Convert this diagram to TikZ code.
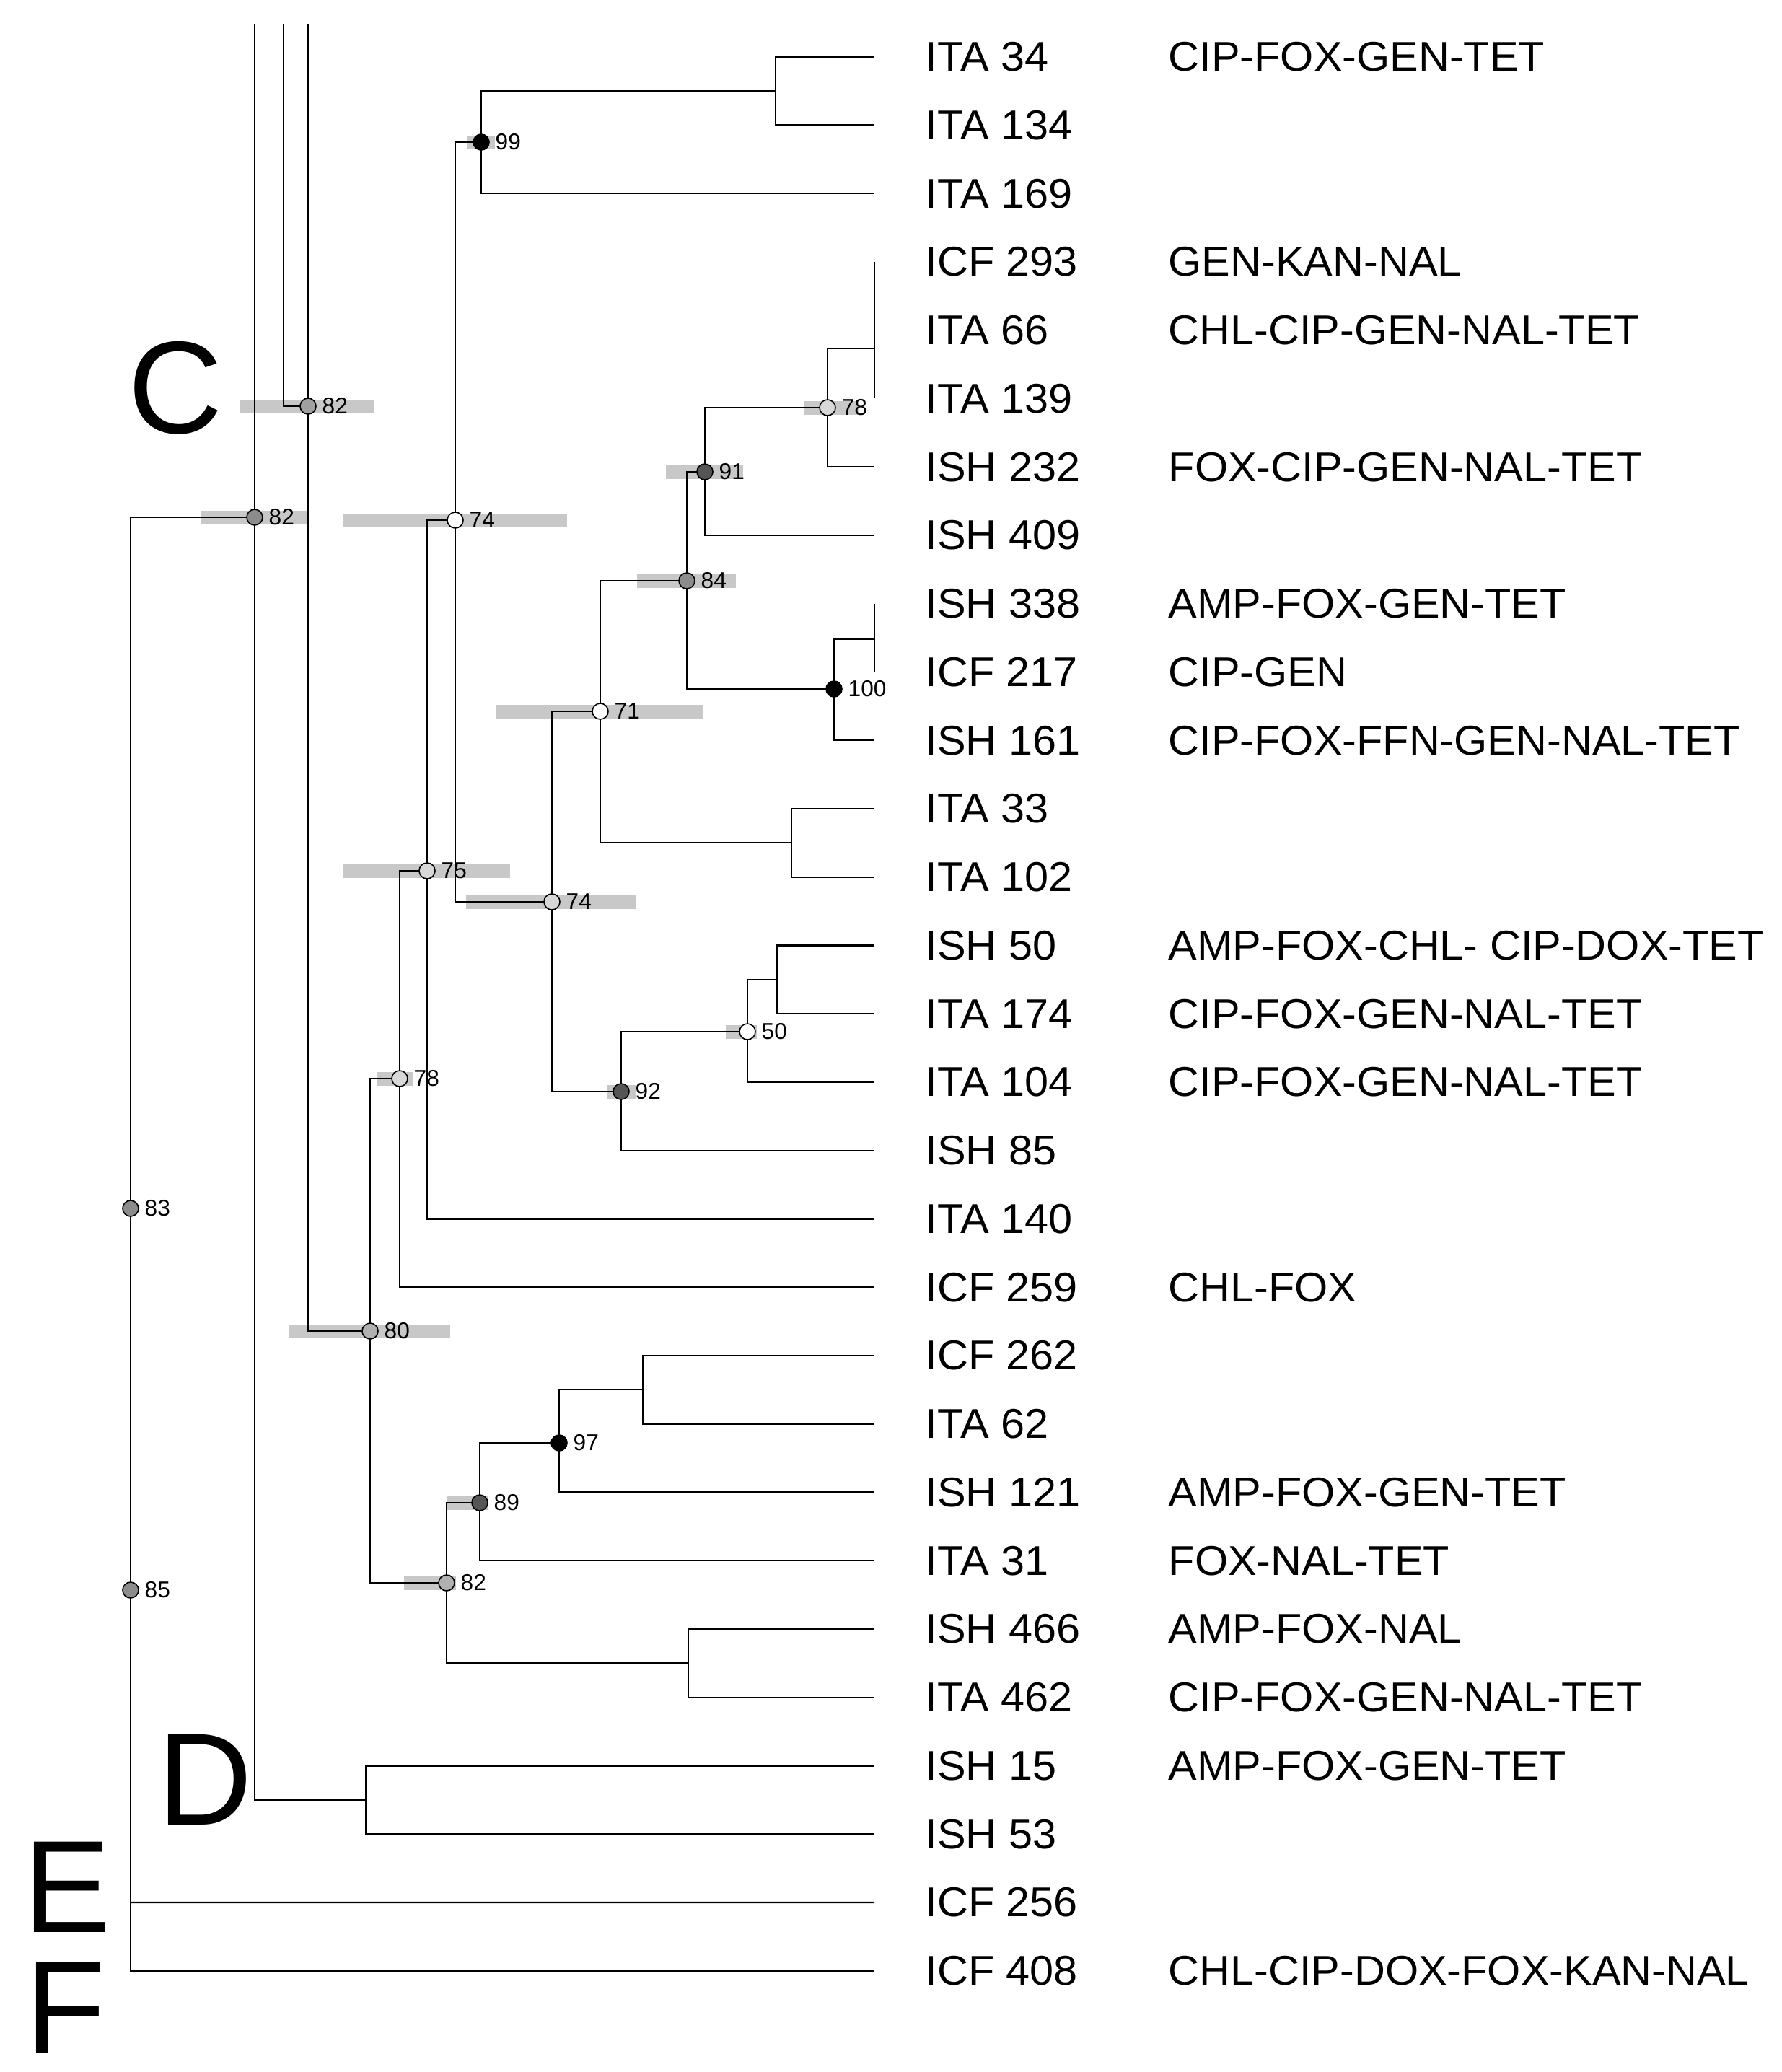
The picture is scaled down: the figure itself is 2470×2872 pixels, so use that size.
\documentclass[tikz,border=0pt]{standalone}
\usepackage{fontspec}
\setmainfont{Liberation Sans}
\newfontfamily\leaffont[FakeStretch=1.03]{Liberation Sans}
\definecolor{barg}{HTML}{C8C8C8}
\definecolor{gA}{HTML}{A0A0A0}
\definecolor{gB}{HTML}{8C8C8C}
\definecolor{gL}{HTML}{D8D8D8}
\definecolor{gD}{HTML}{555555}
\definecolor{gM}{HTML}{B0B0B0}
\tikzset{
  br/.style={line width=0.6pt, line join=miter},
  supnode/.style={circle, draw=black, line width=0.45pt, minimum size=0.22cm, inner sep=0pt},
  slab/.style={anchor=west, inner sep=0pt, font=\fontsize{9pt}{10pt}\selectfont},
  leaf/.style={anchor=base west, inner sep=0pt, font=\leaffont\fontsize{16.4pt}{19pt}\selectfont},
  big/.style={anchor=base west, inner sep=0pt, font=\fontsize{51.8pt}{60pt}\selectfont},
}
\newcommand\hpdbar[3]{\fill[barg] (#1,#2-9.5) rectangle (#3,#2+9.5);}
\begin{document}
\begin{tikzpicture}[x=0.01cm,y=-0.01cm]
\useasboundingbox (0,0) rectangle (2470,2872);
% leaf tips and names
\foreach \i/\nm in {0/ITA 34,1/ITA 134,2/ITA 169,3/ICF 293,4/ITA 66,5/ITA 139,6/ISH 232,7/ISH 409,8/ISH 338,9/ICF 217,10/ISH 161,11/ITA 33,12/ITA 102,13/ISH 50,14/ITA 174,15/ITA 104,16/ISH 85,17/ITA 140,18/ICF 259,19/ICF 262,20/ITA 62,21/ISH 121,22/ITA 31,23/ISH 466,24/ITA 462,25/ISH 15,26/ISH 53,27/ICF 256,28/ICF 408}{
  \pgfmathsetmacro\yy{78.7+94.75*\i}
  \coordinate (L\i) at (1212,\yy);
  \node[leaf] (t\i) at (1282,\yy+20) {\nm};
}
\foreach \i/\ab in {0/CIP-FOX-GEN-TET,3/GEN-KAN-NAL,4/CHL-CIP-GEN-NAL-TET,6/FOX-CIP-GEN-NAL-TET,8/AMP-FOX-GEN-TET,9/CIP-GEN,10/CIP-FOX-FFN-GEN-NAL-TET,13/AMP-FOX-CHL- CIP-DOX-TET,14/CIP-FOX-GEN-NAL-TET,15/CIP-FOX-GEN-NAL-TET,18/CHL-FOX,21/AMP-FOX-GEN-TET,22/FOX-NAL-TET,23/AMP-FOX-NAL,24/CIP-FOX-GEN-NAL-TET,25/AMP-FOX-GEN-TET,28/CHL-CIP-DOX-FOX-KAN-NAL}{
  \pgfmathsetmacro\yy{78.7+94.75*\i}
  \node[leaf] (a\i) at (1619,\yy+20) {\ab};
}
% internal node positions
\coordinate (T1) at (353,33);
\coordinate (T2) at (393,33);
\coordinate (T3) at (427,33);
\coordinate (nC82) at (427,563);
\coordinate (nB82) at (353,717);
\coordinate (nF) at (181,2731.7);
\coordinate (nE) at (181,2637);
\coordinate (n83) at (181,1675);
\coordinate (n85) at (181,2204);
\coordinate (n80) at (513,1845);
\coordinate (n78b) at (554,1495);
\coordinate (n75) at (592,1207);
\coordinate (n74a) at (631,721);
\coordinate (n99) at (667,197);
\coordinate (c1) at (1075,126.1);
\coordinate (n74b) at (765,1250);
\coordinate (n71) at (832,986);
\coordinate (c2) at (1097,1168.4);
\coordinate (n84) at (952,805);
\coordinate (n91) at (977,654);
\coordinate (n78a) at (1147,565);
\coordinate (c3) at (1212,483);
\coordinate (n100) at (1156,955);
\coordinate (c4) at (1212,886);
\coordinate (n92) at (861,1513);
\coordinate (n50) at (1036,1430);
\coordinate (c5) at (1077,1357.9);
\coordinate (n82c) at (619,2194);
\coordinate (n89) at (665,2083);
\coordinate (n97) at (775,2000);
\coordinate (c6) at (891,1926.4);
\coordinate (c7) at (954,2305.4);
\coordinate (c8) at (507,2494.9);
% grey bars
\hpdbar{333}{563}{519}
\hpdbar{278}{717}{428}
\hpdbar{400}{1845}{624}
\hpdbar{523}{1495}{572}
\hpdbar{476}{1207}{707}
\hpdbar{476}{721}{786}
\hpdbar{647}{197}{686}
\hpdbar{646}{1250}{882}
\hpdbar{687}{986}{974}
\hpdbar{883}{805}{1020}
\hpdbar{923}{654}{1030}
\hpdbar{1115}{565}{1190}
\hpdbar{842}{1513}{882}
\hpdbar{1006}{1430}{1049}
\hpdbar{560}{2194}{632}
\hpdbar{619}{2083}{676}
% branches
\draw[br] (T1) |- (c8);
\draw[br] (T2) |- (nC82);
\draw[br] (T3) |- (n80);
\draw[br] (nB82) -| (nF) -- (L28);
\draw[br] (nE) -- (L27);
\draw[br] (n78b) -| (n80) |- (n82c);
\draw[br] (n75) -| (n78b) |- (L18);
\draw[br] (n74a) -| (n75) |- (L17);
\draw[br] (n99) -| (n74a) |- (n74b);
\draw[br] (c1) -| (n99) |- (L2);
\draw[br] (L0) -| (c1) |- (L1);
\draw[br] (n71) -| (n74b) |- (n92);
\draw[br] (n84) -| (n71) |- (c2);
\draw[br] (L11) -| (c2) |- (L12);
\draw[br] (n91) -| (n84) |- (n100);
\draw[br] (n78a) -| (n91) |- (L7);
\draw[br] (c3) -| (n78a) |- (L6);
\draw[br] (L3) -- (L5);
\draw[br] (c4) -| (n100) |- (L10);
\draw[br] (L8) -- (L9);
\draw[br] (n50) -| (n92) |- (L16);
\draw[br] (c5) -| (n50) |- (L15);
\draw[br] (L13) -| (c5) |- (L14);
\draw[br] (n89) -| (n82c) |- (c7);
\draw[br] (L23) -| (c7) |- (L24);
\draw[br] (n97) -| (n89) |- (L22);
\draw[br] (c6) -| (n97) |- (L21);
\draw[br] (L19) -| (c6) |- (L20);
\draw[br] (L25) -| (c8) |- (L26);
% support circles and labels
\foreach \c/\f/\v in {nC82/gA/82,nB82/gB/82,n83/gB/83,n85/gB/85,n80/gM/80,n78b/gL/78,n75/gL/75,n74a/white/74,n99/black/99,n74b/gL/74,n71/white/71,n84/gB/84,n91/gD/91,n78a/gL/78,n100/black/100,n92/gD/92,n50/white/50,n82c/gM/82,n89/gD/89,n97/black/97}{
  \node[supnode, fill=\f] (k\c) at (\c) {};
  \node[slab] (s\c) at ([xshift=0.19cm]\c) {\v};
}
% clade letters
\node[big] (lC) at (177,600) {C};
\node[big] (lD) at (218,2529) {D};
\node[big] (lE) at (32,2678) {E};
\node[big] (lF) at (35,2845) {F};
\end{tikzpicture}
\end{document}
